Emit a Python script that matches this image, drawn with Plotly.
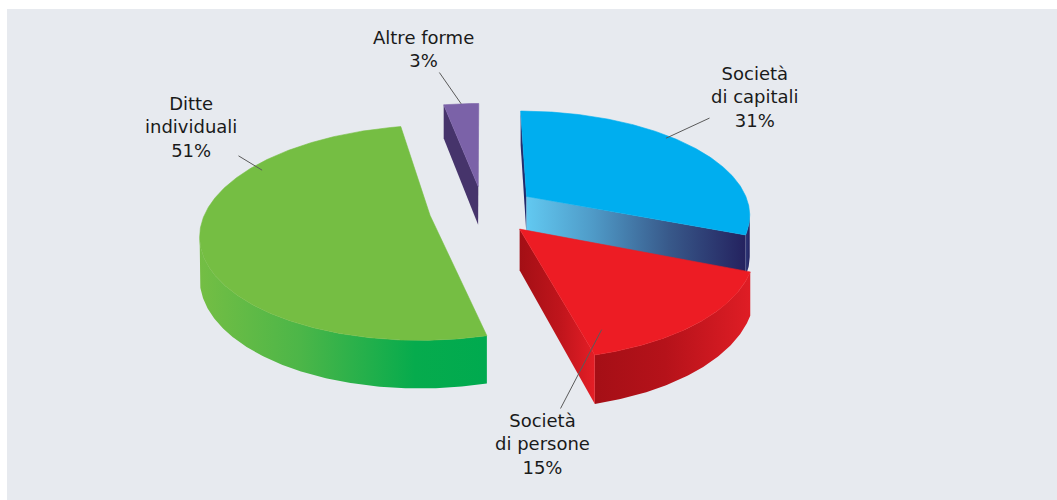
import numpy as np
import plotly.graph_objects as go

# ---- data -------------------------------------------------------------
categories = ["Società di capitali", "Società di persone", "Ditte individuali", "Altre forme"]
label_lines = [["Società", "di capitali"], ["Società", "di persone"], ["Ditte", "individuali"], ["Altre forme"]]
shares = [31, 15, 51, 3]

# ---- styling ----------------------------------------------------------
top_colors = ["#00aeef", "#ed1c24", "#75be43", "#7b62a8"]
outer_scales = [
    [[0, "#2e3a7a"], [1, "#232160"]],
    [[0, "#a50f16"], [0.45, "#b5121a"], [1, "#df1d25"]],
    [[0, "#74be44"], [0.35, "#4cb648"], [0.75, "#06ab4d"], [1, "#00aa4f"]],
    [[0, "#4a3870"], [1, "#3d2d62"]],
]
start_scales = [
    [[0, "#2a2d6c"], [1, "#1f2a6b"]],
    [[0, "#a30f15"], [1, "#c0151c"]],
    [[0, "#3a9a3a"], [1, "#2e8b34"]],
    [[0, "#46346b"], [1, "#46346b"]],
]
end_scales = [
    [[0, "#62c9f1"], [0.3, "#4f9bc8"], [0.65, "#38598a"], [1, "#24225f"]],
    [[0, "#a30f15"], [0.55, "#c0151c"], [1, "#e41e26"]],
    [[0, "#3a9a3a"], [1, "#2e8b34"]],
    [[0, "#46346b"], [1, "#46346b"]],
]

# leader anchor on each slice: (fraction of slice sweep, fraction of radius)
leader_pos = [(0.43, 0.97), (0.9, 0.85), (0.73, 0.94), (0.5, 1.0)]
# label text centres (axis units = pixels)
label_xy = [(755, 97), (542, 444), (191, 127), (423, 49)]

# projection of the tilted disc
CX, CY = 483, 210
RX, RY = 224, 103
PERSP = 0.16
DEPTH = 40
EXPLODE = 0.24

BG = "#e7eaef"


def project(u, v, h):
    s = 1.0 / (1.0 + PERSP * v)
    return CX + RX * u * s, CY - RY * v * s + DEPTH * h * s


def signed_area(xs, ys):
    xs = np.asarray(xs)
    ys = np.asarray(ys)
    return 0.5 * np.sum(xs * np.roll(ys, -1) - np.roll(xs, -1) * ys)


def poly_trace(xs, ys, color=None, scale=None):
    kw = dict(x=list(xs) + [xs[0]], y=list(ys) + [ys[0]], mode="lines",
              fill="toself", hoverinfo="skip", showlegend=False)
    if scale is not None:
        kw["line"] = dict(width=0)
        kw["fillgradient"] = dict(type="horizontal", colorscale=scale)
    else:
        kw["line"] = dict(width=0.6, color=color)
        kw["fillcolor"] = color
    return go.Scatter(**kw)


total = float(sum(shares))
edges = np.concatenate([[0.0], np.cumsum(shares) / total * 360.0])

slices = []
for i, share in enumerate(shares):
    a, b = edges[i], edges[i + 1]
    m = np.radians((a + b) / 2)
    ou, ov = EXPLODE * np.sin(m), EXPLODE * np.cos(m)
    slices.append(dict(i=i, a=a, b=b, ou=ou, ov=ov))

fig = go.Figure()

# farther slices first
for sl in sorted(slices, key=lambda d: -d["ov"]):
    i, a, b, ou, ov = sl["i"], sl["a"], sl["b"], sl["ou"], sl["ov"]

    def rim(theta_deg, h):
        t = np.radians(theta_deg)
        return project(ou + np.sin(t), ov + np.cos(t), h)

    c_top = project(ou, ov, 0)
    c_bot = project(ou, ov, 1)

    n = max(3, int((b - a) / 0.5) + 1)
    thetas = np.linspace(a, b, n)
    tx, ty = rim(thetas, 0)
    bx, by = rim(thetas, 1)

    # curved outer wall: keep segments that face the viewer
    vis = []
    for k in range(n - 1):
        qa = signed_area([tx[k], tx[k + 1], bx[k + 1], bx[k]],
                         [ty[k], ty[k + 1], by[k + 1], by[k]])
        vis.append(qa < 0)
    k = 0
    while k < n - 1:
        if vis[k]:
            j = k
            while j < n - 1 and vis[j]:
                j += 1
            xs = list(tx[k:j + 1]) + list(bx[k:j + 1][::-1])
            ys = list(ty[k:j + 1]) + list(by[k:j + 1][::-1])
            fig.add_trace(poly_trace(xs, ys, scale=outer_scales[i]))
            k = j
        else:
            k += 1

    # flat radial walls
    for theta, sign, scale in ((a, -1, start_scales[i]), (b, 1, end_scales[i])):
        ex0, ey0 = rim(theta, 0)
        ex1, ey1 = rim(theta, 1)
        xs = [c_top[0], ex0, ex1, c_bot[0]]
        ys = [c_top[1], ey0, ey1, c_bot[1]]
        if sign * signed_area(xs, ys) > 0:
            fig.add_trace(poly_trace(xs, ys, scale=scale))

    # top face
    xs = [c_top[0]] + list(tx)
    ys = [c_top[1]] + list(ty)
    fig.add_trace(poly_trace(xs, ys, color=top_colors[i]))

# labels with leader lines
for sl in slices:
    i, a, b, ou, ov = sl["i"], sl["a"], sl["b"], sl["ou"], sl["ov"]
    frac, rf = leader_pos[i]
    t = np.radians(a + frac * (b - a))
    px, py = project(ou + rf * np.sin(t), ov + rf * np.cos(t), 0)
    text = "<br>".join(label_lines[i] + [f"{shares[i]}%"])
    fig.add_annotation(
        x=px, y=py, xref="x", yref="y",
        ax=label_xy[i][0], ay=label_xy[i][1], axref="x", ayref="y",
        text=text, showarrow=True, arrowhead=0, arrowwidth=1,
        arrowcolor="#5a5a5a", align="center",
        font=dict(family="DejaVu Sans", size=18, color="#1a1a1a"),
    )

# white frame along the top and left edges of the panel
fig.add_shape(type="rect", xref="paper", yref="paper", layer="below",
              x0=-0.02, x1=1.02, y0=1.0, y1=1.05,
              fillcolor="white", line=dict(width=0))
fig.add_shape(type="rect", xref="paper", yref="paper", layer="below",
              x0=-0.02, x1=0.0, y0=-0.02, y1=1.05,
              fillcolor="white", line=dict(width=0))

fig.update_layout(
    width=1057, height=500,
    margin=dict(l=7, r=0, t=9, b=0),
    paper_bgcolor=BG,
    plot_bgcolor=BG,
    xaxis=dict(range=[7, 1057], visible=False, fixedrange=True),
    yaxis=dict(range=[500, 9], visible=False, fixedrange=True),
    showlegend=False,
)

fig.write_html("out.html")
